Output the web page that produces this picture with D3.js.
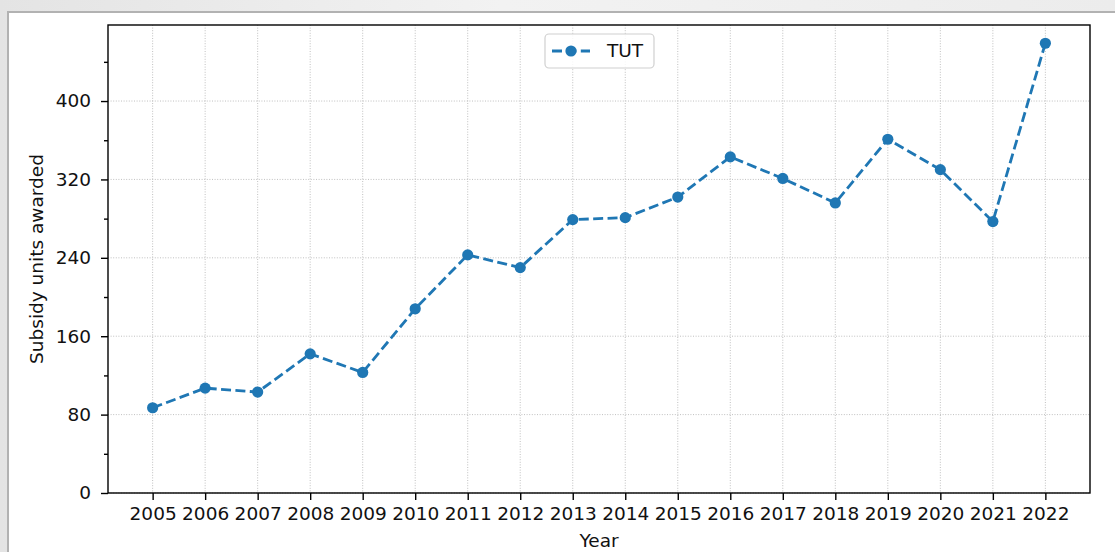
<!DOCTYPE html>
<html><head><meta charset="utf-8">
<script src="https://cdn.jsdelivr.net/npm/d3@7"></script>
<style>
html,body{margin:0;padding:0;background:#fff;}
svg{display:block;}
text{font-family:"DejaVu Sans",sans-serif;fill:#111;}
</style></head>
<body><svg id="c" width="1115" height="552"></svg>
<script>
const years = [2005,2006,2007,2008,2009,2010,2011,2012,2013,2014,2015,2016,2017,2018,2019,2020,2021,2022];
const values = [87,107,103,142,123,188,243,230,279,281,302,343,321,296,361,330,277,459];
const yTicks = [0,80,160,240,320,400];
const yMinorTicks = [40,120,200,280,360,440];
const seriesName = "TUT";
const xLabel = "Year";
const yLabel = "Subsidy units awarded";

const svg = d3.select("#c");
const W = 1115, H = 552;
const FS = "18.5px";

// page background
const defs = svg.append("defs");
const g0 = defs.append("linearGradient").attr("id","bg").attr("x1","0").attr("x2","1").attr("y1","0").attr("y2","0");
g0.append("stop").attr("offset","0").attr("stop-color","#e4e4e4");
g0.append("stop").attr("offset","0.45").attr("stop-color","#f2f2f2");
g0.append("stop").attr("offset","1").attr("stop-color","#ececec");
svg.append("rect").attr("width",W).attr("height",H).attr("fill","url(#bg)");
svg.append("rect").attr("x",8).attr("y",12).attr("width",W).attr("height",H)
  .attr("fill","#fff").attr("stroke","#b2b2b2").attr("stroke-width",2);

const L = 108, R = 1090, T = 25, B = 493;
const yMin = 0, yMax = d3.max(values) + 0.05*(d3.max(values)-d3.min(values));
const x = d3.scaleLinear().domain([years[0]-0.85, years[years.length-1]+0.85]).range([L,R]);
const y = d3.scaleLinear().domain([yMin, yMax]).range([B,T]);

// grid
const grid = svg.append("g").attr("stroke","#b0b0b0").attr("stroke-width",0.8).attr("stroke-dasharray","1,1.6");
grid.selectAll("line.v").data(years).join("line").attr("x1",d=>x(d)).attr("x2",d=>x(d)).attr("y1",T).attr("y2",B);
grid.selectAll("line.h").data(yTicks).join("line").attr("x1",L).attr("x2",R).attr("y1",d=>y(d)).attr("y2",d=>y(d));

// axes
const xAxis = d3.axisBottom(x).tickValues(years).tickFormat(d3.format("d")).tickSize(7).tickPadding(7);
const gx = svg.append("g").attr("transform",`translate(0,${B})`).call(xAxis);
const yAxis = d3.axisLeft(y).tickValues(yTicks).tickFormat(d3.format("d")).tickSize(7).tickPadding(10);
const gy = svg.append("g").attr("transform",`translate(${L},0)`).call(yAxis);
const yAxisMinor = d3.axisLeft(y).tickValues(yMinorTicks).tickFormat("").tickSize(4);
const gym = svg.append("g").attr("transform",`translate(${L},0)`).call(yAxisMinor);
[gx,gy,gym].forEach(g=>{
  g.attr("font-size",FS).attr("font-family","DejaVu Sans");
  g.select(".domain").remove();
  g.selectAll(".tick line").attr("stroke","#000").attr("stroke-width",1.4);
  g.selectAll(".tick text").attr("fill","#111");
});

// frame
svg.append("rect").attr("x",L).attr("y",T).attr("width",R-L).attr("height",B-T)
  .attr("fill","none").attr("stroke","#000").attr("stroke-width",1.4);

// line
const color = "#1f77b4";
const line = d3.line().x((d,i)=>x(years[i])).y(d=>y(d));
svg.append("path").datum(values).attr("d",line).attr("fill","none")
  .attr("stroke",color).attr("stroke-width",2.8).attr("stroke-dasharray","10,4.4");
svg.append("g").selectAll("circle").data(values).join("circle")
  .attr("cx",(d,i)=>x(years[i])).attr("cy",d=>y(d)).attr("r",5.6).attr("fill",color);

// labels
svg.append("text").attr("x",(L+R)/2).attr("y",547).attr("text-anchor","middle").attr("font-size",FS).text(xLabel);
svg.append("text").attr("transform",`translate(43,${(T+B)/2}) rotate(-90)`).attr("text-anchor","middle").attr("font-size",FS).text(yLabel);

// legend
const lg = svg.append("g");
lg.append("rect").attr("x",545).attr("y",34).attr("width",109).attr("height",34).attr("rx",4)
  .attr("fill","#fff").attr("fill-opacity",0.85).attr("stroke","#d0d0d0").attr("stroke-width",1.2);
lg.append("line").attr("x1",552).attr("x2",590).attr("y1",51).attr("y2",51)
  .attr("stroke",color).attr("stroke-width",2.8).attr("stroke-dasharray","10,4.4");
lg.append("circle").attr("cx",571).attr("cy",51).attr("r",5.6).attr("fill",color);
lg.append("text").attr("x",607).attr("y",57).attr("font-size",FS).text(seriesName);
</script></body></html>
